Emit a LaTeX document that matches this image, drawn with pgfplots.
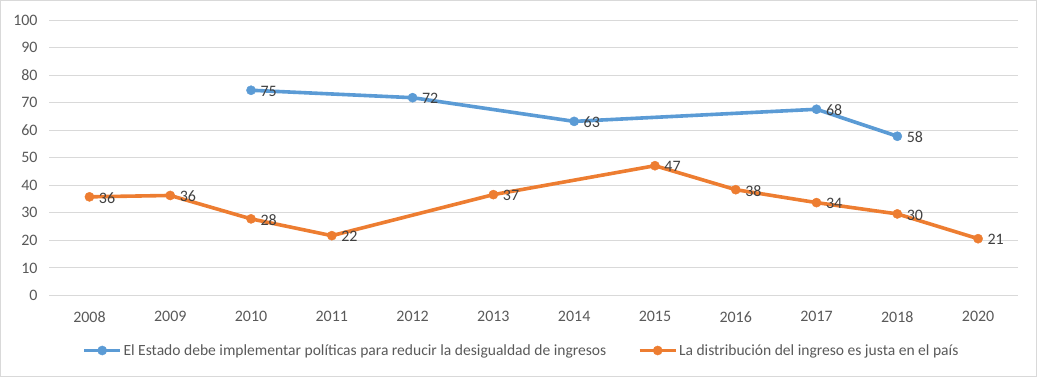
\documentclass[border=0pt]{standalone}
\usepackage{pgfplots}
\pgfplotsset{compat=1.18}
\usepackage{fontspec}
\setmainfont{Carlito}
\definecolor{cblue}{HTML}{5B9BD5}
\definecolor{corange}{HTML}{ED7D31}
\definecolor{cgrid}{HTML}{D9D9D9}
\definecolor{ctext}{HTML}{595959}
\definecolor{clabel}{HTML}{404040}
\pgfplotstableread{
x y lab
2 74.5 75
4 71.8 72
6 63.2 63
9 67.6 68
10 57.8 58
}\blue
\pgfplotstableread{
x y lab
0 35.8 36
1 36.3 36
2 27.8 28
3 21.7 22
5 36.6 37
7 47.1 47
8 38.4 38
9 33.7 34
10 29.6 30
11 20.6 21
}\orange
\begin{document}
\begin{tikzpicture}
\begin{axis}[
  scale only axis, width=968bp, height=275bp,
  xmin=-0.5, xmax=11.5, ymin=0, ymax=100,
  xtick={0,...,11},
  xticklabels={2008,2009,2010,2011,2012,2013,2014,2015,2016,2017,2018,2020},
  ytick={0,10,...,100},
  ymajorgrids, grid style={cgrid, line width=0.8bp},
  axis line style={draw=none},
  tick style={draw=none},
  clip=false,
  font=\fontsize{16}{18}\selectfont,
  /pgf/number format/assume math mode=true,
  ticklabel style={text=ctext, font=\fontsize{16}{18}\selectfont},
  yticklabel style={xshift=-8bp},
  xticklabel style={yshift=-12.5bp},
  legend style={at={(0.487,-0.2)}, anchor=center, draw=none, fill=none,
    font=\fontsize{15.6}{18}\selectfont, text=ctext, legend columns=2,
    nodes={inner sep=1.5bp},
    /tikz/every even column/.append style={column sep=30bp}},
  legend image code/.code={
    \draw[mark repeat=2,mark phase=2] plot coordinates {(0bp,0bp) (18bp,0bp) (36bp,0bp)};},
  nodes near coords,
  point meta=explicit symbolic,
  every node near coord/.append style={anchor=west, xshift=6bp, yshift=-1bp, text=clabel,
    font=\fontsize{16}{18}\selectfont},
]
\coordinate (SW) at (rel axis cs:0,0);
\coordinate (NE) at (rel axis cs:1,1);
\addplot[cblue, line width=3.6bp, mark=*, mark size=4.6bp, mark options={solid, fill=cblue, draw=cblue, line width=0.4bp}]
  table[x=x, y=y, meta=lab] {\blue};
\addlegendentry{El Estado debe implementar políticas para reducir la desigualdad de ingresos}
\addplot[corange, line width=3.6bp, mark=*, mark size=4.6bp, mark options={solid, fill=corange, draw=corange, line width=0.4bp}]
  table[x=x, y=y, meta=lab] {\orange};
\addlegendentry{La distribución del ingreso es justa en el país}
\end{axis}
\draw[cgrid, line width=1bp] ([xshift=-48.5bp,yshift=-80.5bp]SW) rectangle ([xshift=18bp,yshift=19.5bp]NE);
\end{tikzpicture}
\end{document}
